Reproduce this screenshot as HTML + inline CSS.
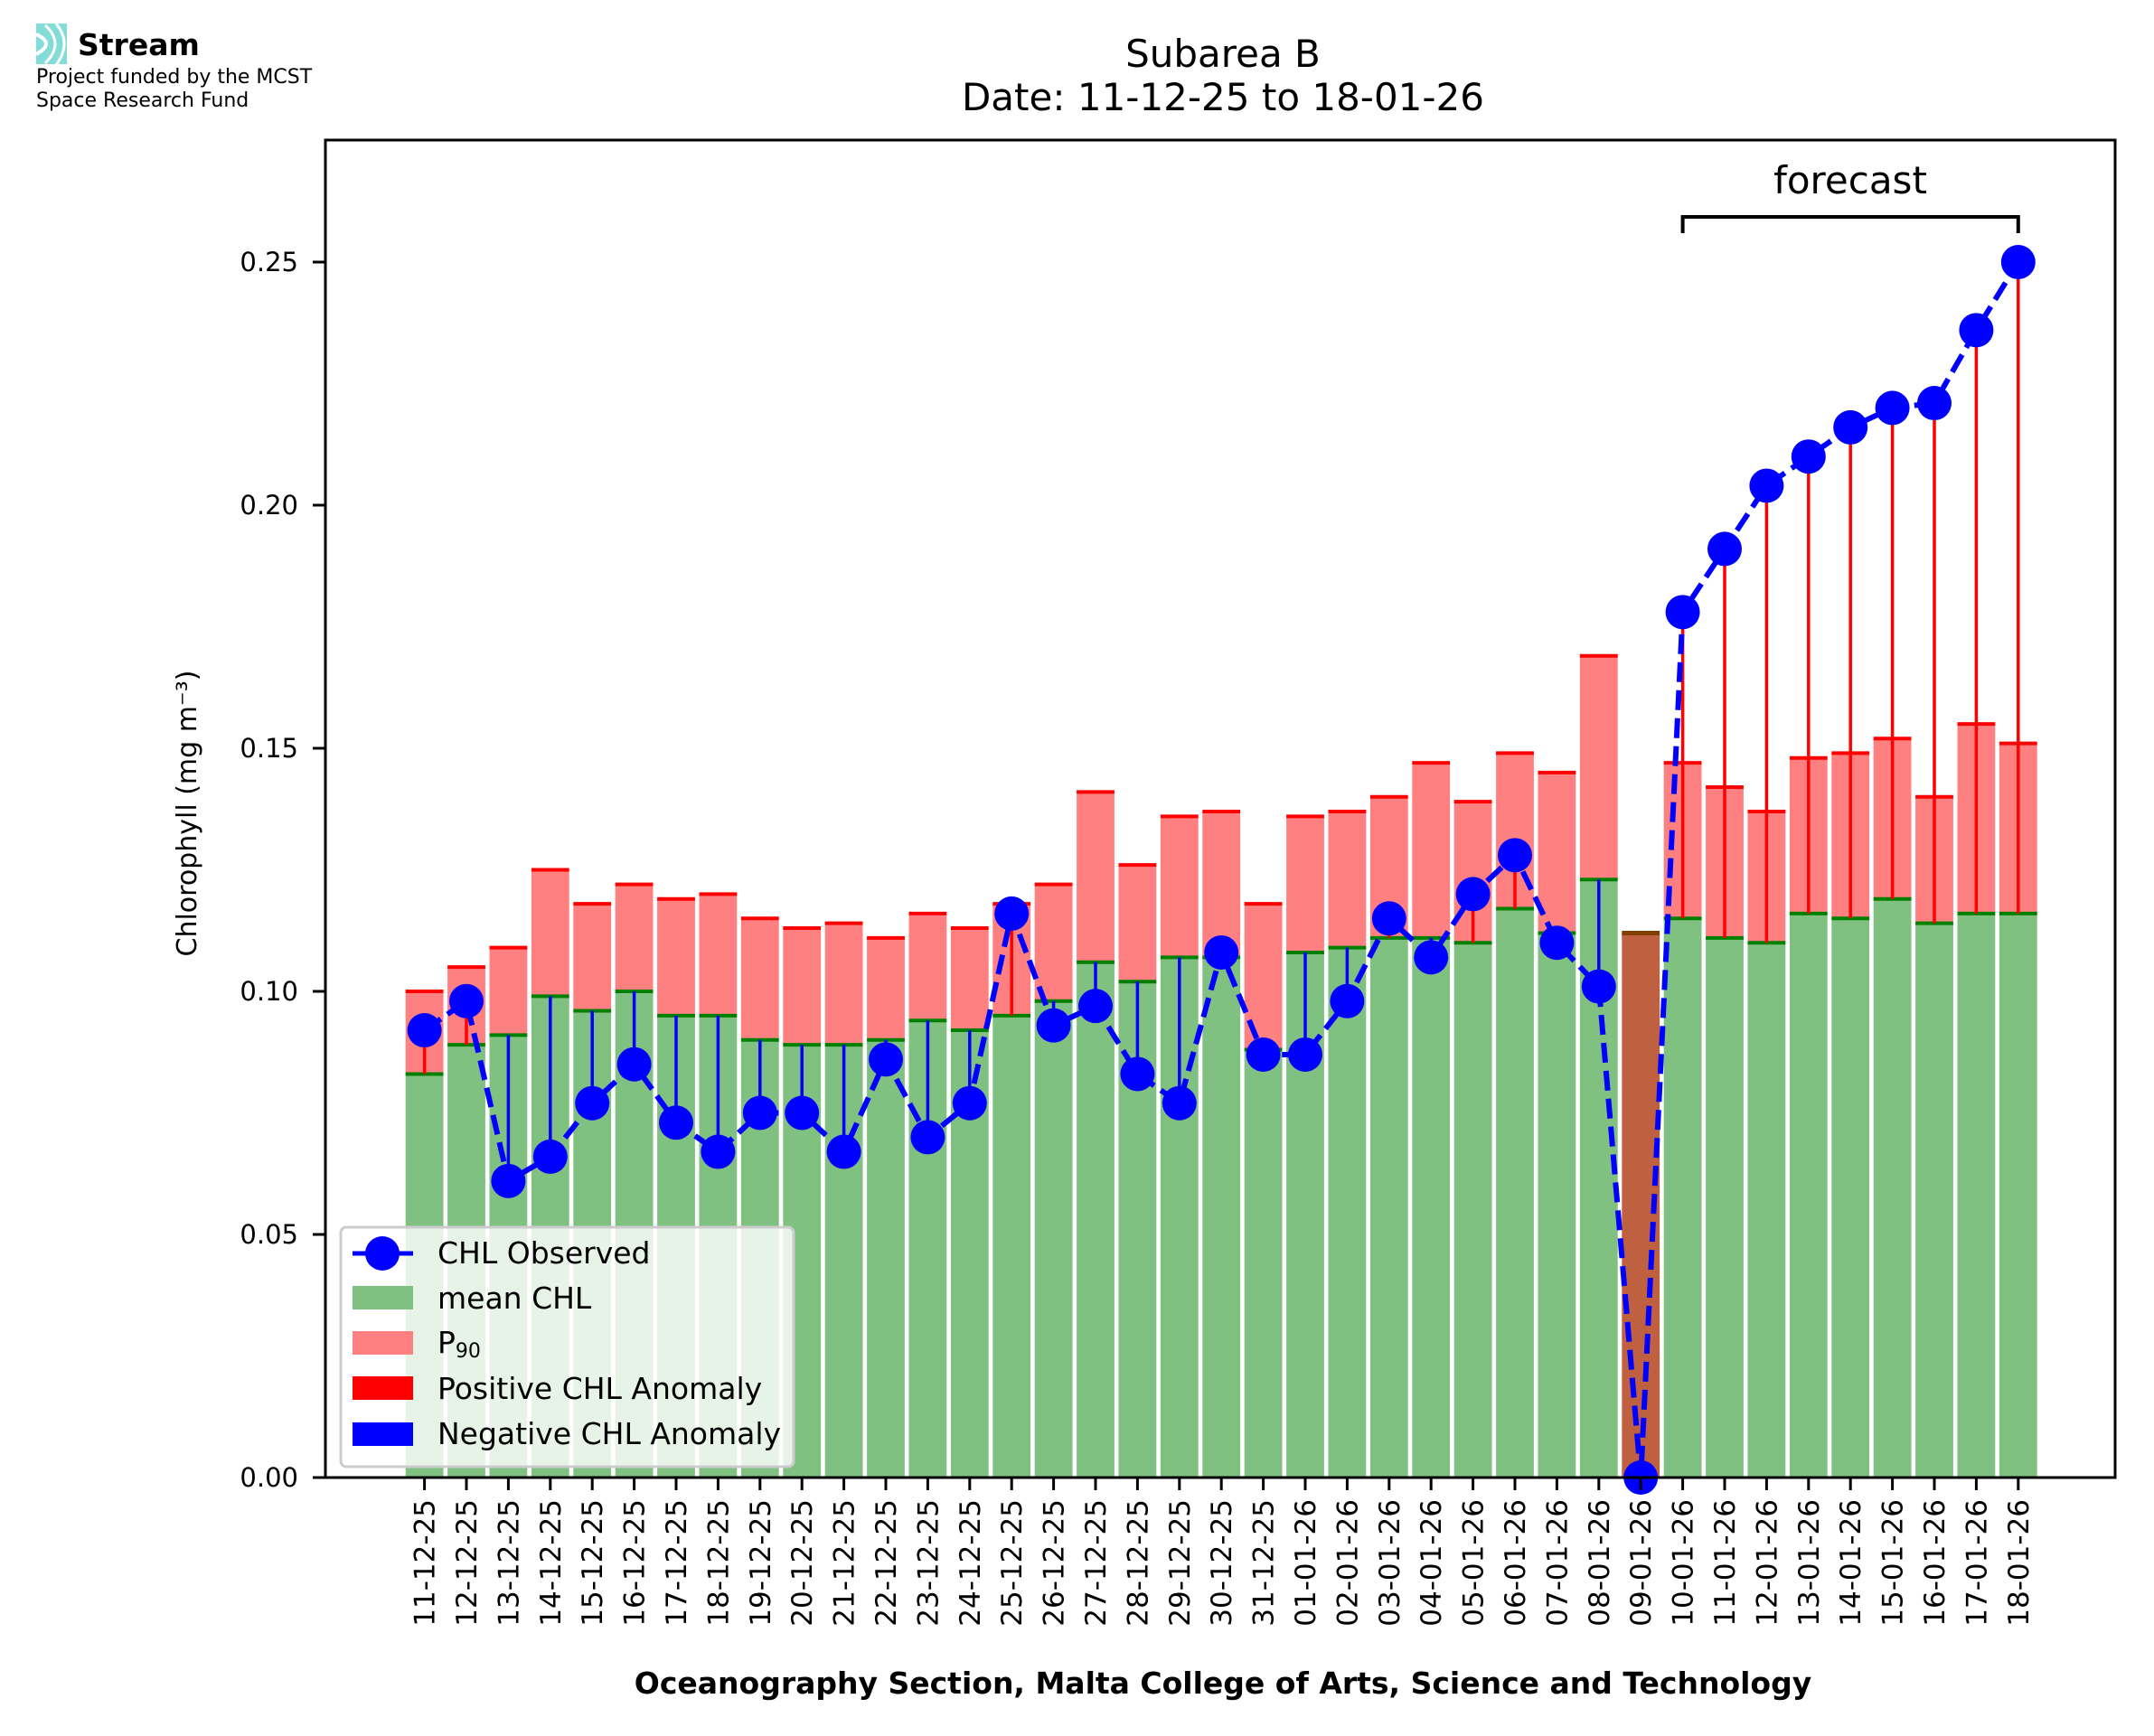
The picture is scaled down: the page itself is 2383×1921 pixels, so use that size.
<!DOCTYPE html>
<html><head><meta charset="utf-8"><style>
html,body{margin:0;padding:0;background:#fff}
svg{display:block}
text{font-family:"DejaVu Sans","Liberation Sans",sans-serif;fill:#000}
</style></head><body>
<svg id="s" width="2383" height="1921" viewBox="0 0 2383 1921" xmlns="http://www.w3.org/2000/svg">
<rect width="2383" height="1921" fill="#fff"/>
<g>
<rect x="40" y="26" width="34" height="45" fill="#84dcd8"/>
<path d="M40 38 Q62 48 40 60" fill="none" stroke="#fff" stroke-width="4"/>
<path d="M50 28 Q72 48 50 70" fill="none" stroke="#fff" stroke-width="3"/>
<path d="M62 26 Q80 48 62 72" fill="none" stroke="#fff" stroke-width="3"/>
<text x="86" y="61" font-size="33" font-weight="bold">Stream</text>
<text x="40" y="92" font-size="22">Project funded by the MCST</text>
<text x="40" y="118" font-size="22">Space Research Fund</text>
</g>
<text x="1353" y="74" font-size="42" text-anchor="middle">Subarea B</text>
<text x="1353" y="122" font-size="42" text-anchor="middle">Date: 11-12-25 to 18-01-26</text>
<g id="plot"></g>
<path d="M1861.6 258 V240 H2232.8 V258" fill="none" stroke="#000" stroke-width="4"/>
<text x="2047" y="214" font-size="42" text-anchor="middle">forecast</text>
<rect x="360" y="155" width="1980" height="1480" fill="none" stroke="#000" stroke-width="3"/>
<g font-size="29" text-anchor="end">
<text x="330" y="1645">0.00</text>
<text x="330" y="1376">0.05</text>
<text x="330" y="1107">0.10</text>
<text x="330" y="838">0.15</text>
<text x="330" y="569">0.20</text>
<text x="330" y="300">0.25</text>
</g>
<g stroke="#000" stroke-width="3">
<line x1="346" y1="1635" x2="360" y2="1635"/><line x1="346" y1="1366" x2="360" y2="1366"/>
<line x1="346" y1="1097" x2="360" y2="1097"/><line x1="346" y1="828" x2="360" y2="828"/>
<line x1="346" y1="559" x2="360" y2="559"/><line x1="346" y1="290" x2="360" y2="290"/>
</g>
<text transform="translate(217,900) rotate(-90)" font-size="30" text-anchor="middle">Chlorophyll (mg m⁻³)</text>
<g id="xt" font-size="31" text-anchor="end"></g>
<text x="1353" y="1874" font-size="33" font-weight="bold" text-anchor="middle">Oceanography Section, Malta College of Arts, Science and Technology</text>
<g>
<rect x="377" y="1358" width="501" height="265" rx="6" fill="#fff" fill-opacity="0.8" stroke="#ccc" stroke-width="3"/>
<line x1="390" y1="1387" x2="457" y2="1387" stroke="#00f" stroke-width="5"/>
<circle cx="423" cy="1387" r="19" fill="#00f"/>
<rect x="390" y="1423" width="67" height="26" fill="#80c080"/>
<rect x="390" y="1473" width="67" height="26" fill="#ff8080"/>
<rect x="390" y="1523" width="67" height="26" fill="#f00"/>
<rect x="390" y="1574" width="67" height="26" fill="#00f"/>
<g font-size="33">
<text x="484" y="1398">CHL Observed</text>
<text x="484" y="1448">mean CHL</text>
<text x="484" y="1497">P<tspan font-size="22" dy="5">90</tspan></text>
<text x="484" y="1548">Positive CHL Anomaly</text>
<text x="484" y="1598">Negative CHL Anomaly</text>
</g>
</g>
</svg>
<script>
var labels=["11-12-25","12-12-25","13-12-25","14-12-25","15-12-25","16-12-25","17-12-25","18-12-25","19-12-25","20-12-25","21-12-25","22-12-25","23-12-25","24-12-25","25-12-25","26-12-25","27-12-25","28-12-25","29-12-25","30-12-25","31-12-25","01-01-26","02-01-26","03-01-26","04-01-26","05-01-26","06-01-26","07-01-26","08-01-26","09-01-26","10-01-26","11-01-26","12-01-26","13-01-26","14-01-26","15-01-26","16-01-26","17-01-26","18-01-26"];
var D=[[.083,.100,.092],[.089,.105,.098],[.091,.109,.061],[.099,.125,.066],[.096,.118,.077],[.100,.122,.085],[.095,.119,.073],[.095,.120,.067],[.090,.115,.075],[.089,.113,.075],[.089,.114,.067],[.090,.111,.086],[.094,.116,.070],[.092,.113,.077],[.095,.118,.116],[.098,.122,.093],[.106,.141,.097],[.102,.126,.083],[.107,.136,.077],[.107,.137,.108],[.088,.118,.087],[.108,.136,.087],[.109,.137,.098],[.111,.140,.115],[.111,.147,.107],[.110,.139,.120],[.117,.149,.128],[.112,.145,.110],[.123,.169,.101],[.112,.112,0],[.115,.147,.178],[.111,.142,.191],[.110,.137,.204],[.116,.148,.210],[.115,.149,.216],[.119,.152,.220],[.114,.140,.221],[.116,.155,.236],[.116,.151,.250]];
function X(i){return 469.6+46.4*i}function Y(v){return 1635-v*5380}
var g=document.getElementById("plot"),h="";
D.forEach(function(d,i){var x=X(i)-20.9,w=41.8;
 if(i==29){h+='<rect x="'+x+'" y="'+Y(d[0])+'" width="'+w+'" height="'+(1635-Y(d[0]))+'" fill="#bf6040"/><line x1="'+x+'" x2="'+(x+w)+'" y1="'+Y(d[0])+'" y2="'+Y(d[0])+'" stroke="#804000" stroke-width="5"/>';return;}
 h+='<rect x="'+x+'" y="'+Y(d[1])+'" width="'+w+'" height="'+(Y(d[0])-Y(d[1]))+'" fill="#ff8080"/>';
 h+='<rect x="'+x+'" y="'+Y(d[0])+'" width="'+w+'" height="'+(1635-Y(d[0]))+'" fill="#80c080"/>';
 h+='<line x1="'+x+'" x2="'+(x+w)+'" y1="'+Y(d[1])+'" y2="'+Y(d[1])+'" stroke="#f00" stroke-width="4"/>';
 h+='<line x1="'+x+'" x2="'+(x+w)+'" y1="'+Y(d[0])+'" y2="'+Y(d[0])+'" stroke="#008000" stroke-width="4"/>';
});
D.forEach(function(d,i){if(i==29)return;var c=d[2]>d[0]?"#f00":"#00f";
 h+='<line x1="'+X(i)+'" x2="'+X(i)+'" y1="'+Y(d[0])+'" y2="'+Y(d[2])+'" stroke="'+c+'" stroke-width="3.5"/>';});
var p=D.map(function(d,i){return X(i)+","+Y(d[2])}).join(" ");
h+='<polyline points="'+p+'" fill="none" stroke="#00f" stroke-width="6" stroke-dasharray="22,9"/>';
D.forEach(function(d,i){h+='<circle cx="'+X(i)+'" cy="'+Y(d[2])+'" r="19" fill="#00f"/>';});
g.innerHTML=h;
var t="",xt=document.getElementById("xt");
labels.forEach(function(l,i){t+='<line x1="'+X(i)+'" x2="'+X(i)+'" y1="1635" y2="1649" stroke="#000" stroke-width="3"/><text transform="translate('+(X(i)+11)+',1659) rotate(-90)">'+l+'</text>';});
xt.innerHTML=t;
</script>
</body></html>
